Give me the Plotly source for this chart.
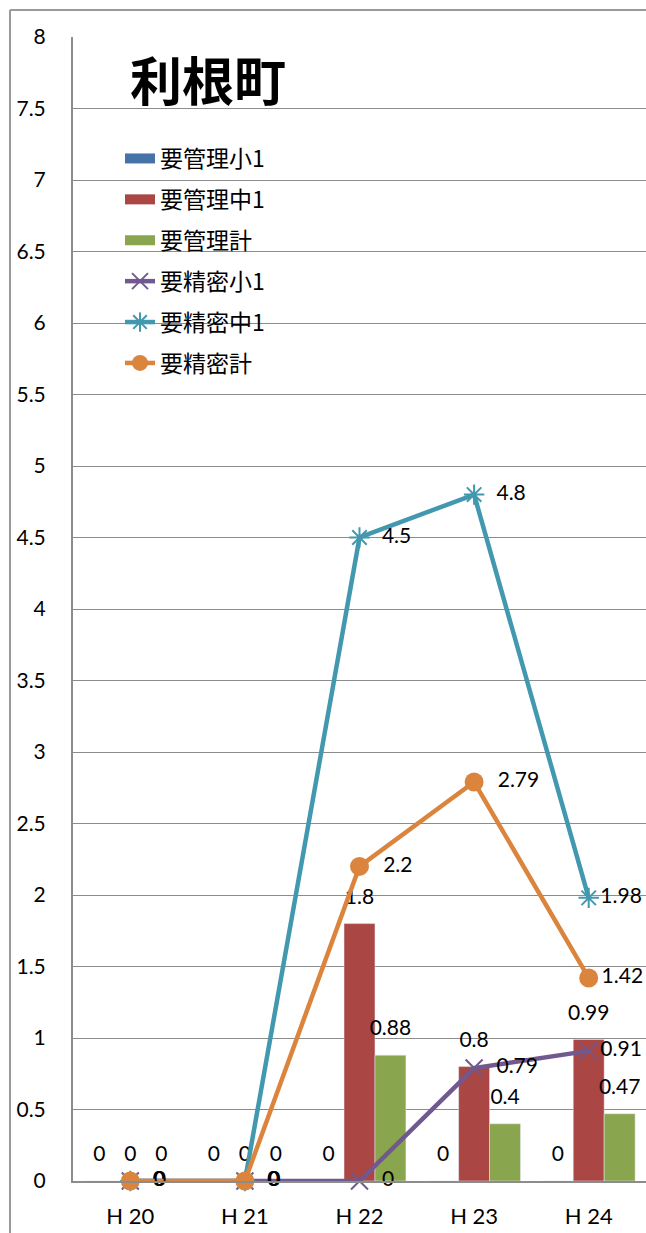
import plotly.graph_objects as go

categories = ["H 20", "H 21", "H 22", "H 23", "H 24"]
kanri_sho = [0, 0, 0, 0, 0]
kanri_chu = [0, 0, 1.8, 0.8, 0.99]
kanri_kei = [0, 0, 0.88, 0.4, 0.47]
seimitsu_sho = [0, 0, 0, 0.79, 0.91]
seimitsu_chu = [0, 0, 4.5, 4.8, 1.98]
seimitsu_kei = [0, 0, 2.2, 2.79, 1.42]
y_ticks = [0, 0.5, 1, 1.5, 2, 2.5, 3, 3.5, 4, 4.5, 5, 5.5, 6, 6.5, 7, 7.5, 8]

JP = "Noto Sans CJK JP"
NUM = "Lato, Noto Sans"
LABEL_FONT = dict(family=NUM, size=21, color="black")
NB = "\u00a0"

W, H = 646, 1233
ML, MT, MB = 73, 37, 52
PW, PH = W - ML, H - MT - MB

fig = go.Figure()

bars = [
    ("要管理小1", kanri_sho, "#4572A7"),
    ("要管理中1", kanri_chu, "#AA4643"),
    ("要管理計", kanri_kei, "#89A54E"),
]
for i, (name, vals, col) in enumerate(bars):
    # label raised a little above the bar (as in the reference) via a tiny second line
    bar_text = [f"<span style='font-size:21px'>{v}</span><br><span style='font-size:1px'>{NB}</span>"
                for v in vals]
    fig.add_trace(go.Bar(
        x=categories, y=vals, name=name, marker_color=col,
        text=bar_text, textposition="outside",
        textfont=dict(family=NUM, size=13, color="black"),
        cliponaxis=False, constraintext="none",
        showlegend=False, legendgroup=f"g{i}",
    ))
# legend entries for bars (wide rectangle look)
for i, (name, vals, col) in enumerate(bars):
    fig.add_trace(go.Scatter(
        x=[None], y=[None], name=name, mode="lines",
        line=dict(color=col, width=14), legendgroup=f"g{i}", showlegend=True,
    ))

lines = [
    ("要精密小1", seimitsu_sho, "#71588F", "x-thin", 17, 2),
    ("要精密中1", seimitsu_chu, "#4198AF", "asterisk", 17, 2),
    ("要精密計", seimitsu_kei, "#DB843D", "circle", 19, 0),
]
for i, (name, vals, col, sym, sz, lw) in enumerate(lines):
    labels = [NB + NB + str(v) for v in vals[:-1]] + [str(vals[-1])]
    fig.add_trace(go.Scatter(
        x=categories, y=vals, name=name, mode="lines+markers+text",
        line=dict(color=col, width=4.5),
        marker=dict(symbol=sym, size=sz, color=col, line=dict(color=col, width=lw)),
        text=labels, textposition="middle right",
        textfont=LABEL_FONT, cliponaxis=False, legendgroup=f"g{i+3}",
    ))

def px(xfig):
    return (xfig - ML) / PW

def py(yfig):
    return (MT + PH - yfig) / PH

fig.update_layout(
    width=W, height=H,
    margin=dict(l=ML, r=0, t=MT, b=MB, autoexpand=False),
    plot_bgcolor="white", paper_bgcolor="white",
    barmode="group", bargap=0.19, bargroupgap=0,
    showlegend=True,
    legend=dict(
        x=px(120), y=py(137), xanchor="left", yanchor="top",
        font=dict(family=JP, size=23, color="black"),
        bgcolor="rgba(0,0,0,0)", tracegroupgap=8,
        traceorder="grouped",
    ),
    annotations=[dict(
        text="<b>利根町</b>", x=px(128), xanchor="left", y=py(78), yanchor="middle",
        xref="paper", yref="paper", showarrow=False,
        font=dict(family=JP, size=52, color="black"),
    )],
    shapes=[
        dict(type="line", xref="paper", yref="paper",
             x0=px(10), x1=px(10), y0=-1, y1=py(10),
             line=dict(color="#9a9a9a", width=2)),
        dict(type="line", xref="paper", yref="paper",
             x0=px(10), x1=1.05, y0=py(10), y1=py(10),
             line=dict(color="#9a9a9a", width=2)),
    ],
)
fig.update_yaxes(
    range=[0, 8], tickvals=y_ticks, ticktext=[f"{v:g}" for v in y_ticks],
    showgrid=True, gridcolor="#8c8c8c", gridwidth=1.3,
    showline=True, linecolor="#8c8c8c", linewidth=2,
    zeroline=False, tickfont=dict(family=NUM, size=21, color="black"),
    ticklabelstandoff=21, automargin=False,
)
fig.update_xaxes(
    range=[-0.5, 4.5], showline=True, linecolor="#8c8c8c", linewidth=2,
    showgrid=False, tickfont=dict(family=NUM, size=22, color="black"),
    ticklabelstandoff=15, automargin=False,
)

fig.write_html(
    "out.html",
    config={"displayModeBar": False},
    post_script="document.body.style.margin='0';document.body.style.overflow='hidden';",
)
